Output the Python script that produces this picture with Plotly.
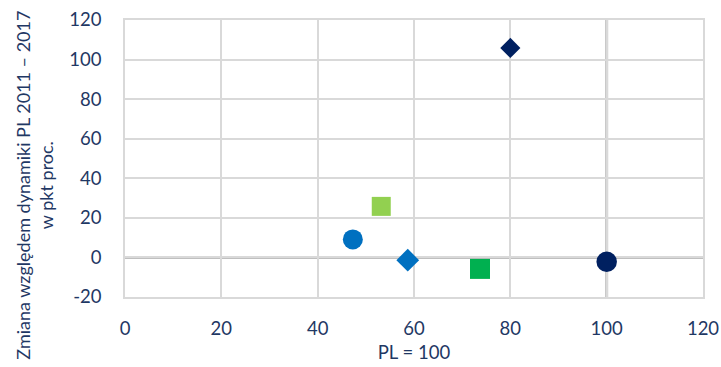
import plotly.graph_objects as go

# Relative position vs Poland (PL = 100) and change in growth gap 2011–2017
x_vals = [53.2, 47.3, 58.7, 73.7, 80.0, 100.0]
y_vals = [25.8, 9.1, -1.4, -5.8, 105.9, -2.2]
symbols = ["square", "circle", "diamond", "square", "diamond", "circle"]
colors = ["#92D050", "#0070C0", "#0070C0", "#00B050", "#002060", "#002060"]
sizes = [19, 20, 17.5, 20, 15.5, 20.5]

x_ticks = [0, 20, 40, 60, 80, 100, 120]
y_ticks = [-20, 0, 20, 40, 60, 80, 100, 120]
y_tick_labels = ["-20", "0", "20", "40", "60", "80", "100", "120"]
x_cross = 100  # vertical axis crosses the horizontal one at PL = 100

text_color = "#1F3864"
font_family = "Lato, Carlito, Calibri, sans-serif"
font_size = 18.5

fig = go.Figure()
fig.add_trace(go.Scatter(
    x=x_vals, y=y_vals, mode="markers",
    marker=dict(symbol=symbols, color=colors, size=sizes, opacity=1, line=dict(width=0)),
    opacity=1, showlegend=False, cliponaxis=False,
))

# axis lines crossing inside the plot area
fig.add_shape(type="line", xref="x", yref="paper", x0=x_cross, x1=x_cross, y0=0, y1=1,
              line=dict(color="#BFBFBF", width=3), layer="below")
fig.add_shape(type="line", xref="paper", yref="y", x0=0, x1=1, y0=0, y1=0,
              line=dict(color="#BFBFBF", width=3), layer="below")

fig.update_xaxes(
    range=[0, 120], tickvals=x_ticks, showgrid=True, gridcolor="#D9D9D9", gridwidth=1.5,
    zeroline=False, showline=True, mirror=True, linecolor="#D9D9D9", linewidth=1.5,
    ticks="outside", ticklen=14, tickcolor="rgba(0,0,0,0)",
    tickfont=dict(size=font_size, color=text_color, family=font_family),
    title=dict(text="PL = 100", font=dict(size=font_size, color=text_color, family=font_family), standoff=8),
)
fig.update_yaxes(
    range=[-20, 120], tickvals=y_ticks, ticktext=y_tick_labels, showgrid=True,
    gridcolor="#D9D9D9", gridwidth=1.5,
    zeroline=False, showline=True, mirror=True, linecolor="#D9D9D9", linewidth=1.5,
    ticks="outside", ticklen=18, tickcolor="rgba(0,0,0,0)",
    tickfont=dict(size=font_size, color=text_color, family=font_family),
)

fig.add_annotation(
    text="Zmiana względem dynamiki PL 2011 – 2017<br>w pkt proc.",
    textangle=-90, xref="paper", yref="paper",
    x=(34 - 124.7) / 578.6, y=(296.7 - 185) / 277,
    xanchor="center", yanchor="middle", showarrow=False,
    font=dict(size=18, color=text_color, family=font_family),
)

fig.update_layout(
    width=721, height=367,
    margin=dict(l=125, r=18, t=20, b=70, autoexpand=False),
    plot_bgcolor="white", paper_bgcolor="white",
)

fig.write_html("out.html")
